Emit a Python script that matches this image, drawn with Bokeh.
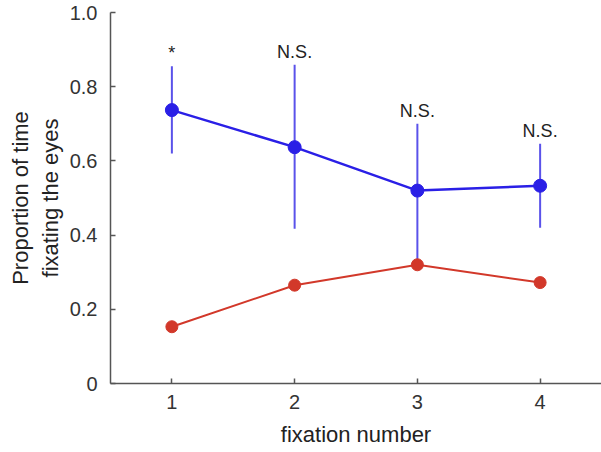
from bokeh.plotting import figure
from bokeh.models import ColumnDataSource, Range1d, FixedTicker
from bokeh.embed import file_html
from bokeh.resources import INLINE
from bokeh.core.properties import value

# ---- data ----
fixation = [1, 2, 3, 4]
eyes_mean = [0.737, 0.637, 0.520, 0.533]
eyes_upper = [0.855, 0.859, 0.700, 0.646]
eyes_lower = [0.620, 0.417, 0.320, 0.420]
other_mean = [0.153, 0.265, 0.320, 0.272]
sig_labels = ["*", "N.S.", "N.S.", "N.S."]
x_ticks = [1, 2, 3, 4]
y_ticks = [0, 0.2, 0.4, 0.6, 0.8, 1.0]
y_tick_labels = {0: "0", 0.2: "0.2", 0.4: "0.4", 0.6: "0.6", 0.8: "0.8", 1.0: "1.0"}

FONT = "Liberation Sans"
BLUE = "#2a1fe6"
BLUE_ERR = "#5a52ea"
RED = "#d2382a"

p = figure(width=601, height=452, output_backend="svg", toolbar_location=None,
           x_range=Range1d(0.5, 4.5), y_range=Range1d(0, 1.0),
           min_border_left=110, min_border_right=0, min_border_top=12,
           min_border_bottom=69)
p.outline_line_color = None
p.grid.grid_line_color = None
p.background_fill_color = "white"
p.border_fill_color = "white"

src = ColumnDataSource(dict(x=fixation, m=eyes_mean, up=eyes_upper, lo=eyes_lower,
                            o=other_mean, lab=sig_labels))

# error bars (blue)
p.segment(x0="x", y0="lo", x1="x", y1="up", source=src, line_color=BLUE_ERR, line_width=2)

# lines and markers
p.line("x", "o", source=src, line_color=RED, line_width=2)
p.scatter("x", "o", source=src, size=12, fill_color=RED, line_color=RED)
p.line("x", "m", source=src, line_color=BLUE, line_width=2.5)
p.scatter("x", "m", source=src, size=13, fill_color=BLUE, line_color=BLUE)

# significance labels
p.text("x", "up", text="lab", source=src, text_align="center", text_baseline="alphabetic",
       y_offset=-13, text_font=value(FONT), text_font_size="18px", text_color="#222222")

for ax in (p.xaxis[0], p.yaxis[0]):
    ax.axis_line_color = "#555555"
    ax.axis_line_width = 1.5
    ax.major_tick_line_color = "#555555"
    ax.major_tick_line_width = 1.5
    ax.major_tick_in = 5
    ax.major_tick_out = 0
    ax.minor_tick_line_color = None
    ax.major_label_text_font = FONT
    ax.major_label_text_font_size = "20px"
    ax.major_label_text_color = "#333333"
    ax.axis_label_text_font = FONT
    ax.axis_label_text_font_size = "22px"
    ax.axis_label_text_font_style = "normal"
    ax.axis_label_text_color = "#222222"

p.xaxis.ticker = FixedTicker(ticks=x_ticks)
p.yaxis.ticker = FixedTicker(ticks=y_ticks)
p.yaxis.major_label_overrides = y_tick_labels
p.xaxis.major_label_standoff = 11
p.yaxis.major_label_standoff = 13
p.xaxis.axis_label = "fixation number"
p.xaxis.axis_label_standoff = 10
p.yaxis.axis_label = "Proportion of time\nfixating the eyes"
p.yaxis.axis_label_standoff = 4

open("out.html", "w").write(file_html(p, INLINE))
